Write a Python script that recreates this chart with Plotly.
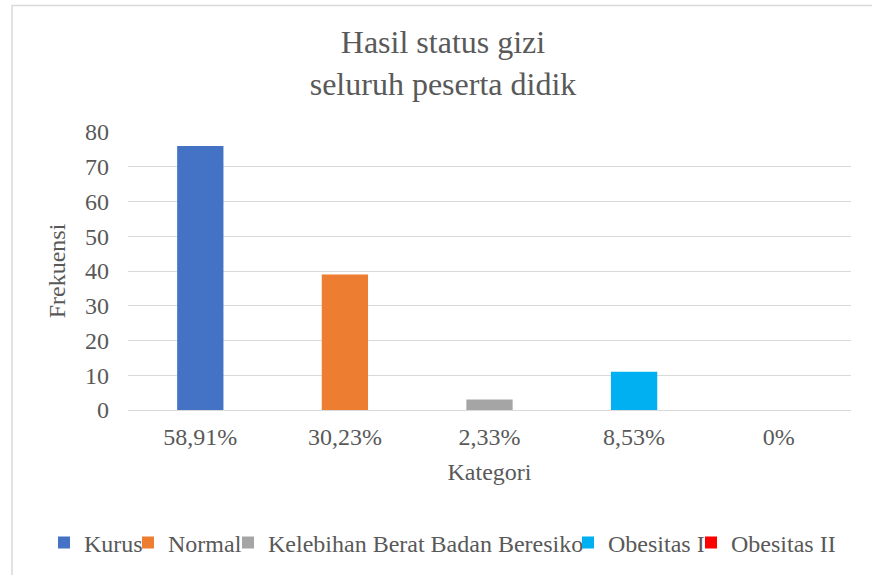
import plotly.graph_objects as go

categories = ["58,91%", "30,23%", "2,33%", "8,53%", "0%"]
series_names = ["Kurus", "Normal", "Kelebihan Berat Badan Beresiko", "Obesitas I", "Obesitas II"]
values = [76, 39, 3, 11, 0]
colors = ["#4472C4", "#ED7D31", "#A5A5A5", "#00B0F0", "#FF0000"]
y_ticks = [0, 10, 20, 30, 40, 50, 60, 70, 80]

FONT = "Liberation Serif"
TXT = "#595959"
W, H = 872, 575
L, R, T, B = 128, 21, 132, 165

# legend text start positions (px) for each entry
legend_text_x = [84, 168, 268, 608, 731]

fig = go.Figure()
legend_ids = ["legend", "legend2", "legend3", "legend4", "legend5"]
for i, (cat, name, val, col) in enumerate(zip(categories, series_names, values, colors)):
    fig.add_trace(go.Bar(
        x=[cat], y=[val], name=name, marker_color=col, width=0.32,
        legend=legend_ids[i], marker_line_width=0,
    ))

layout_legends = {}
for i, lid in enumerate(legend_ids):
    layout_legends[lid] = dict(
        x=(legend_text_x[i] - 40) / W, xref="container", xanchor="left",
        y=1 - 543 / H, yref="container", yanchor="middle",
        orientation="h", bgcolor="rgba(0,0,0,0)", borderwidth=0,
        font=dict(family=FONT, size=24, color=TXT),
    )

fig.update_layout(
    width=W, height=H,
    margin=dict(l=L, r=R, t=T, b=B, autoexpand=False),
    paper_bgcolor="white", plot_bgcolor="white",
    barmode="overlay",
    font=dict(family=FONT, color=TXT, size=24),
    title=dict(
        text="Hasil status gizi<br>seluruh peserta didik",
        font=dict(family=FONT, size=32, color=TXT),
        x=443 / W, xref="container", xanchor="center",
        y=1 - 53 / H, yref="container", yanchor="middle",
    ),
    xaxis=dict(
        categoryorder="array", categoryarray=categories,
        showgrid=False, showline=False, ticks="", zeroline=False,
        tickfont=dict(family=FONT, size=24, color=TXT),
        ticklabelstandoff=10,
        title=dict(text="Kategori", font=dict(family=FONT, size=24, color=TXT), standoff=14),
        automargin=False,
    ),
    yaxis=dict(
        range=[0, 80], tickvals=y_ticks,
        showgrid=True, gridcolor="#D9D9D9", gridwidth=1.3,
        zeroline=True, zerolinecolor="#D9D9D9", zerolinewidth=1.3,
        showline=False, ticks="",
        tickfont=dict(family=FONT, size=24, color=TXT),
        ticklabelstandoff=18,
        title=dict(text="Frekuensi", font=dict(family=FONT, size=24, color=TXT), standoff=12),
        automargin=False,
    ),
    showlegend=True,
    **layout_legends,
)

# chart-area border (top and left edges visible in reference)
pw, ph = W - L - R, H - T - B
fig.add_shape(type="rect", xref="paper", yref="paper",
              x0=(12 - L) / pw, x1=(W + 20 - L) / pw,
              y0=(H - B - (H + 20)) / ph, y1=(H - B - 5.5) / ph,
              line=dict(color="#D9D9D9", width=1.5), fillcolor="rgba(0,0,0,0)", layer="below")

fig.write_html("out.html", config={"displayModeBar": False},
               post_script="document.body.style.margin='0';document.body.style.padding='0';document.body.style.overflow='hidden';")
